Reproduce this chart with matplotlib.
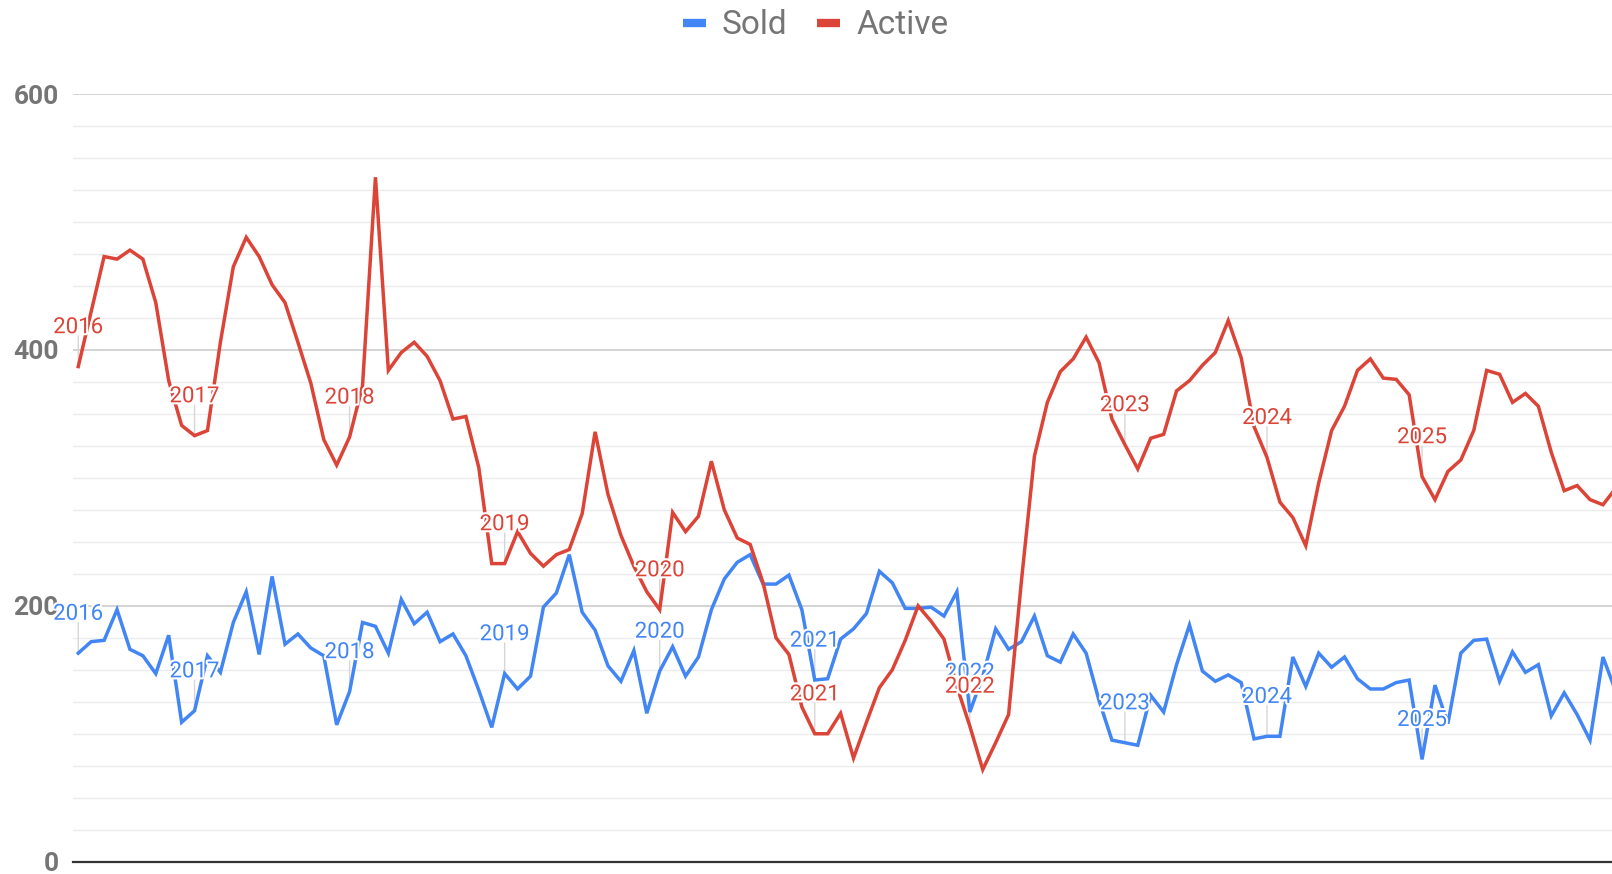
import matplotlib
matplotlib.use("Agg")
import matplotlib.pyplot as plt
import matplotlib.patheffects as pe
from matplotlib.lines import Line2D
import numpy as np

plt.rcParams['font.family'] = ['Roboto', 'DejaVu Sans']

# monthly counts, first point is April 2016
sold = [163, 172, 173, 197, 166, 161, 147, 177, 109, 118, 161, 148, 187, 211, 162, 223,
        170, 178, 167, 161, 107, 133, 187, 184, 163, 205, 186, 195, 172, 178, 161, 134,
        105, 147, 135, 145, 199, 210, 240, 195, 181, 153, 141, 165, 116, 149, 168, 145,
        160, 197, 221, 234, 240, 217, 217, 224, 197, 142, 143, 174, 182, 194, 227, 218,
        198, 198, 199, 192, 211, 117, 145, 182, 166, 172, 192, 161, 156, 178, 163, 126,
        95, 93, 91, 130, 117, 154, 185, 149, 141, 146, 140, 96, 98, 98, 160, 137,
        163, 152, 160, 143, 135, 135, 140, 142, 80, 138, 108, 163, 173, 174, 141, 164,
        148, 154, 114, 132, 115, 95, 160, 133]

active = [387, 430, 473, 471, 478, 471, 437, 376, 341, 333, 337, 406, 465, 488, 473, 451,
          437, 406, 374, 330, 310, 332, 372, 535, 384, 398, 406, 395, 376, 346, 348, 308,
          233, 233, 258, 241, 231, 240, 244, 272, 336, 287, 255, 231, 211, 197, 273, 258,
          270, 313, 275, 253, 248, 218, 175, 162, 121, 100, 100, 116, 81, 109, 136, 150,
          173, 200, 188, 174, 137, 106, 72, 93, 115, 220, 317, 359, 383, 393, 410, 390,
          346, 326, 307, 331, 334, 368, 376, 388, 398, 423, 394, 340, 316, 281, 269, 247,
          296, 337, 356, 384, 393, 378, 377, 365, 301, 283, 305, 314, 337, 384, 381, 359,
          366, 356, 320, 290, 294, 283, 279, 292]

# first row of each year carries the year annotation
year_labels = ['2016', '2017', '2018', '2019', '2020', '2021', '2022', '2023', '2024', '2025']
year_rows = [0, 9, 21, 33, 45, 57, 69, 81, 92, 104]

BLUE = '#4285F4'
RED = '#DB4437'
GREY_TEXT = '#757575'

fig = plt.figure(figsize=(16.12, 8.74), dpi=100)
ax = fig.add_axes([0.0451, 0.01407, 0.9549, 0.8783])

x = np.arange(len(sold))
ax.plot(x, sold, color=BLUE, lw=2.5, zorder=3, solid_joinstyle='miter')
ax.plot(x, active, color=RED, lw=2.5, zorder=4, solid_joinstyle='miter')

# annotations: stem + year text with white halo
for series, color in [(sold, BLUE), (active, RED)]:
    for lab, row in zip(year_labels, year_rows):
        v = series[row]
        ax.annotate('', xy=(row, v), xytext=(0, 22), textcoords='offset points',
                    arrowprops=dict(arrowstyle='-', color='#d6d6d6', lw=1,
                                    shrinkA=0, shrinkB=0), zorder=2)
        ax.annotate(lab, xy=(row, v), xytext=(0, 28), textcoords='offset points',
                    ha='center', va='center', fontsize=16, color=color, zorder=6,
                    path_effects=[pe.withStroke(linewidth=3, foreground='white')])

ax.set_xlim(-0.43, 118.7)
ax.set_ylim(0, 600)
ax.set_yticks([0, 200, 400, 600])
ax.set_yticks(np.arange(0, 601, 25), minor=True)
ax.set_yticklabels(['0', '200', '400', '600'], fontweight='bold', fontsize=19, color=GREY_TEXT)
ax.set_xticks([])
ax.tick_params(axis='y', which='both', length=0, pad=10)
ax.grid(True, which='minor', axis='y', color='#ebebeb', lw=1.0, zorder=0)
ax.grid(True, which='major', axis='y', color='#cccccc', lw=1.2, zorder=0)
ax.set_axisbelow(True)
ax.axhline(0, color='#333333', lw=1.6, zorder=5, clip_on=False)
for s in ax.spines.values():
    s.set_visible(False)

handles = [Line2D([], [], color=BLUE, lw=6, solid_capstyle='butt'),
           Line2D([], [], color=RED, lw=6, solid_capstyle='butt')]
leg = fig.legend(handles, ['Sold', 'Active'], loc='center', bbox_to_anchor=(0.506, 0.971),
                 ncol=2, frameon=False, fontsize=24, handlelength=0.69,
                 handletextpad=0.48, columnspacing=0.9)
for t in leg.get_texts():
    t.set_color(GREY_TEXT)

fig.savefig('out.png', dpi=100)
